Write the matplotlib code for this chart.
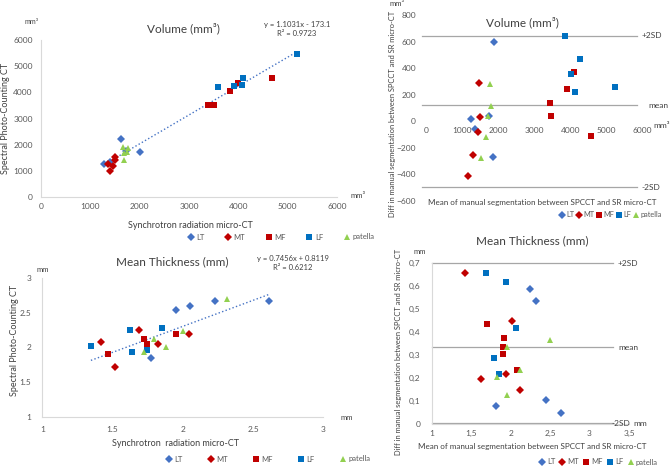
import numpy as np
import matplotlib
matplotlib.use('Agg')
import matplotlib.pyplot as plt

plt.rcParams['font.family'] = ['Lato', 'DejaVu Sans']

W, H = 671, 468

# ---- data: volume, SR micro-CT (x) vs SPCCT (y)
lt_sr_vol = [1270, 1405, 1620, 2013, 1730]
lt_sp_vol = [1277, 1354, 2222, 1724, 1770]
mt_sr_vol = [1358, 1493, 1507, 1453, 1405]
mt_sp_vol = [1277, 1533, 1430, 1188, 983]
mf_sr_vol = [3378, 3500, 3838, 3986, 4682]
mf_sp_vol = [3499, 3512, 4061, 4342, 4559]
lf_sr_vol = [3588, 3919, 4088, 4074, 5189]
lf_sp_vol = [4215, 4253, 4534, 4266, 5453]
pat_sr_vol = [1655, 1764, 1743, 1689, 1676]
pat_sp_vol = [1916, 1877, 1724, 1686, 1405]
vol_fit = [1.1031, -173.1]
vol_r2 = 0.9723

# ---- data: volume Bland-Altman (mean, diff)
lt_mean_vol = [1255, 1366, 1754, 1892, 1855]
lt_diff_vol = [18, -58, 40, 599, -271]
mt_mean_vol = [1477, 1495, 1458, 1301, 1172]
mt_diff_vol = [291, 35, -78, -251, -411]
mf_mean_vol = [3434, 3471, 3905, 4098, 4579]
mf_diff_vol = [135, 40, 241, 369, -113]
lf_mean_vol = [3858, 4025, 4274, 4135, 5243]
lf_diff_vol = [642, 354, 471, 221, 261]
pat_mean_vol = [1772, 1800, 1717, 1662, 1523]
pat_diff_vol = [281, 115, 40, -120, -276]
vol_ba_lines = [642, 120, -491]   # +2SD, mean, -2SD

# ---- data: mean thickness, SR micro-CT (x) vs SPCCT (y)
lt_sr_thk = [1.771, 1.951, 2.051, 2.229, 2.611]
lt_sp_thk = [1.850, 2.537, 2.590, 2.666, 2.661]
mt_sr_thk = [1.420, 1.517, 1.690, 1.823, 2.042]
mt_sp_thk = [2.079, 1.726, 2.251, 2.050, 2.188]
mf_sr_thk = [1.470, 1.726, 1.743, 1.951]
mf_sp_thk = [1.912, 2.122, 2.055, 2.198]
lf_sr_thk = [1.346, 1.622, 1.638, 1.743, 1.849]
lf_sp_thk = [2.017, 2.251, 1.940, 1.964, 2.284]
pat_sr_thk = [1.724, 1.792, 1.882, 2.004, 2.312]
pat_sp_thk = [1.936, 2.127, 2.012, 2.241, 2.690]
thk_fit = [0.7456, 0.8119]
thk_r2 = 0.6212

# ---- data: thickness Bland-Altman (mean, diff)
lt_mean_thk = [2.246, 2.322, 1.811, 2.448, 2.634]
lt_diff_thk = [0.588, 0.538, 0.078, 0.107, 0.048]
mt_mean_thk = [1.422, 2.014, 1.621, 1.938, 2.119]
mt_diff_thk = [0.659, 0.449, 0.199, 0.217, 0.148]
mf_mean_thk = [1.697, 1.921, 1.908, 1.899, 2.077]
mf_diff_thk = [0.438, 0.377, 0.338, 0.307, 0.238]
lf_mean_thk = [1.684, 1.938, 2.064, 1.790, 1.857]
lf_diff_thk = [0.657, 0.617, 0.417, 0.287, 0.217]
pat_mean_thk = [1.959, 2.499, 2.119, 1.832, 1.950]
pat_diff_thk = [0.338, 0.367, 0.236, 0.207, 0.128]
thk_ba_lines = [0.70, 0.335, 0.007]

labels = ['LT', 'MT', 'MF', 'LF', 'patella']
markers = ['D', 'D', 's', 's', '^']
colors = ['#4472C4', '#C00000', '#C00000', '#0070C0', '#92D050']
msizes = [3.8, 3.8, 4.4, 4.4, 5.0]

GRID = '#D9D9D9'
TXT = '#404040'
TICK = '#595959'


def px_ax(l, t, r, b):
    return fig.add_axes([l / W, 1 - b / H, (r - l) / W, (b - t) / H])


def ftxt(x, y, s, **kw):
    kw.setdefault('ha', 'center')
    kw.setdefault('va', 'center')
    kw.setdefault('color', TXT)
    fig.text(x / W, 1 - y / H, s, **kw)


def series(ax, xs, ys):
    hs = []
    for x, y, m, c, ms, lab in zip(xs, ys, markers, colors, msizes, labels):
        h, = ax.plot(x, y, linestyle='none', marker=m, color=c, ms=ms,
                     markeredgewidth=0, label=lab)
        hs.append(h)
    return hs


def style(ax, left=True, bottom=True):
    for s in ['top', 'right']:
        ax.spines[s].set_visible(False)
    ax.spines['left'].set_color(GRID if left else 'none')
    ax.spines['bottom'].set_color(GRID if bottom else 'none')
    ax.spines['left'].set_linewidth(0.8)
    ax.spines['bottom'].set_linewidth(0.8)
    ax.tick_params(length=0, labelsize=6, colors=TICK, pad=4)
    ax.patch.set_alpha(0)


def legend(ax, hs, x, y, colsp, fs=5.5, tp=0.3):
    ax.legend(handles=hs, loc='center left', bbox_to_anchor=(x / W, 1 - y / H),
              bbox_transform=fig.transFigure, ncol=5, frameon=False,
              fontsize=fs, handlelength=0.8, handletextpad=tp,
              columnspacing=colsp, borderpad=0, numpoints=1,
              labelcolor=TICK)


fig = plt.figure(figsize=(W / 100, H / 100), dpi=100)

# ---------------- top-left: volume scatter
ax1 = px_ax(41, 40, 337, 197)
hs = series(ax1, [lt_sr_vol, mt_sr_vol, mf_sr_vol, lf_sr_vol, pat_sr_vol],
            [lt_sp_vol, mt_sp_vol, mf_sp_vol, lf_sp_vol, pat_sp_vol])
allx = lt_sr_vol + mt_sr_vol + mf_sr_vol + lf_sr_vol + pat_sr_vol
xx = np.array([min(allx), max(allx)])
ax1.plot(xx, vol_fit[0] * xx + vol_fit[1], linestyle=':', color='#4472C4', lw=1, zorder=1)
ax1.set_xlim(0, 6000)
ax1.set_ylim(0, 6000)
ax1.set_xticks(range(0, 6001, 1000))
ax1.set_yticks(range(0, 6001, 1000))
style(ax1)
ax1.tick_params(axis='y', pad=6)
legend(ax1, hs, 184, 237, 2.7)
ftxt(183, 28, 'Volume (mm³)', fontsize=8.5)
ftxt(297, 24, 'y = %.4fx - %.1f' % (vol_fit[0], -vol_fit[1]), fontsize=5.5)
ftxt(297, 34, 'R² = %.4f' % vol_r2, fontsize=5.5)
ftxt(32, 21, 'mm³', fontsize=5)
ftxt(6, 118, 'Spectral Photo-Counting CT', fontsize=6.5, rotation=90)
ftxt(190, 225, 'Synchrotron radiation micro-CT', fontsize=6.5)
ftxt(358, 195, 'mm³', fontsize=5.5)

# ---------------- top-right: volume Bland-Altman
ax2 = px_ax(425.7, 15, 642.3, 201)
hs = series(ax2, [lt_mean_vol, mt_mean_vol, mf_mean_vol, lf_mean_vol, pat_mean_vol],
            [lt_diff_vol, mt_diff_vol, mf_diff_vol, lf_diff_vol, pat_diff_vol])
for v in vol_ba_lines:
    ax2.axhline(v, xmin=-0.015, xmax=0.975, color='#A6A6A6', lw=0.9, zorder=0, clip_on=False)
ax2.set_xlim(0, 6000)
ax2.set_ylim(-600, 800)
ax2.set_xticks(range(0, 6001, 1000))
ax2.set_yticks(range(-600, 801, 200))
style(ax2, left=False, bottom=False)
ax2.spines['bottom'].set_position(('data', 0))
ax2.tick_params(axis='y', pad=7)
legend(ax2, hs, 555, 215, 0.25, fs=5.3, tp=0.2)
ftxt(522, 22, 'Volume (mm³)', fontsize=8.5)
ftxt(397, 4, 'mm³', fontsize=5.5)
ftxt(392, 114, 'Diff in manual segmentation between SPCCT and SR micro-CT',
     fontsize=5.4, rotation=90)
ftxt(542, 202, 'Mean of manual segmentation between SPCCT and SR micro-CT', fontsize=5.8)
ftxt(642, 36, '+2SD', fontsize=6, ha='left')
ftxt(648, 105, 'mean', fontsize=6, ha='left')
ftxt(641, 187, '-2SD', fontsize=6, ha='left')
ftxt(653, 125, 'mm³', fontsize=6, ha='left')

# ---------------- bottom-left: thickness scatter
ax3 = px_ax(42.3, 277.7, 323.3, 417.3)
hs = series(ax3, [lt_sr_thk, mt_sr_thk, mf_sr_thk, lf_sr_thk, pat_sr_thk],
            [lt_sp_thk, mt_sp_thk, mf_sp_thk, lf_sp_thk, pat_sp_thk])
allx = lt_sr_thk + mt_sr_thk + mf_sr_thk + lf_sr_thk + pat_sr_thk
xx = np.array([min(allx), max(allx)])
ax3.plot(xx, thk_fit[0] * xx + thk_fit[1], linestyle=':', color='#4472C4', lw=1, zorder=1)
ax3.set_xlim(1, 3)
ax3.set_ylim(1, 3)
ax3.set_xticks([1, 1.5, 2, 2.5, 3])
ax3.set_yticks([1, 1.5, 2, 2.5, 3])
ax3.set_xticklabels(['1', '1.5', '2', '2.5', '3'])
ax3.set_yticklabels(['1', '1.5', '2', '2.5', '3'])
style(ax3)
ax3.tick_params(axis='y', pad=8)
ax3.tick_params(axis='x', pad=6)
legend(ax3, hs, 162, 459, 3.3)
ftxt(172, 262, 'Mean Thickness (mm)', fontsize=8.5)
ftxt(293, 258, 'y = %.4fx + %.4f' % (thk_fit[0], thk_fit[1]), fontsize=5.5)
ftxt(293, 268, 'R² = %.4f' % thk_r2, fontsize=5.5)
ftxt(43, 269, 'mm', fontsize=5.5)
ftxt(15, 340, 'Spectral Photo-Counting CT', fontsize=6.5, rotation=90)
ftxt(176, 443, 'Synchrotron  radiation micro-CT', fontsize=6.5)
ftxt(347, 418, 'mm', fontsize=5.5)

# ---------------- bottom-right: thickness Bland-Altman
ax4 = px_ax(431.7, 263.3, 629, 424.3)
hs = series(ax4, [lt_mean_thk, mt_mean_thk, mf_mean_thk, lf_mean_thk, pat_mean_thk],
            [lt_diff_thk, mt_diff_thk, mf_diff_thk, lf_diff_thk, pat_diff_thk])
for v in thk_ba_lines:
    ax4.axhline(v, xmin=0, xmax=0.92, color='#A6A6A6', lw=0.9, zorder=0, clip_on=False)
ax4.set_xlim(1, 3.5)
ax4.set_ylim(0, 0.7)
xt = [1, 1.5, 2, 2.5, 3, 3.5]
yt = [0, 0.1, 0.2, 0.3, 0.4, 0.5, 0.6, 0.7]
ax4.set_xticks(xt)
ax4.set_yticks(yt)
ax4.set_xticklabels([('%g' % v).replace('.', ',') for v in xt])
ax4.set_yticklabels([('%g' % v).replace('.', ',') for v in yt])
style(ax4)
ax4.tick_params(axis='y', pad=8)
legend(ax4, hs, 535, 462, 0.55, fs=5.5, tp=0.25)
ftxt(532, 241, 'Mean Thickness (mm)', fontsize=8.5)
ftxt(420, 251, 'mm', fontsize=5.5)
ftxt(398, 352, 'Diff in manual segmentation between SPCCT and SR micro-CT',
     fontsize=5.4, rotation=90)
ftxt(532, 447, 'Mean of manual segmentation between SPCCT and SR micro-CT', fontsize=5.8)
ftxt(618, 263, '+2SD', fontsize=6, ha='left')
ftxt(618, 347, 'mean', fontsize=6, ha='left')
ftxt(611, 423, '-2SD', fontsize=6, ha='left')
ftxt(633, 423, 'mm', fontsize=6, ha='left')

fig.savefig('out.png', dpi=100)
